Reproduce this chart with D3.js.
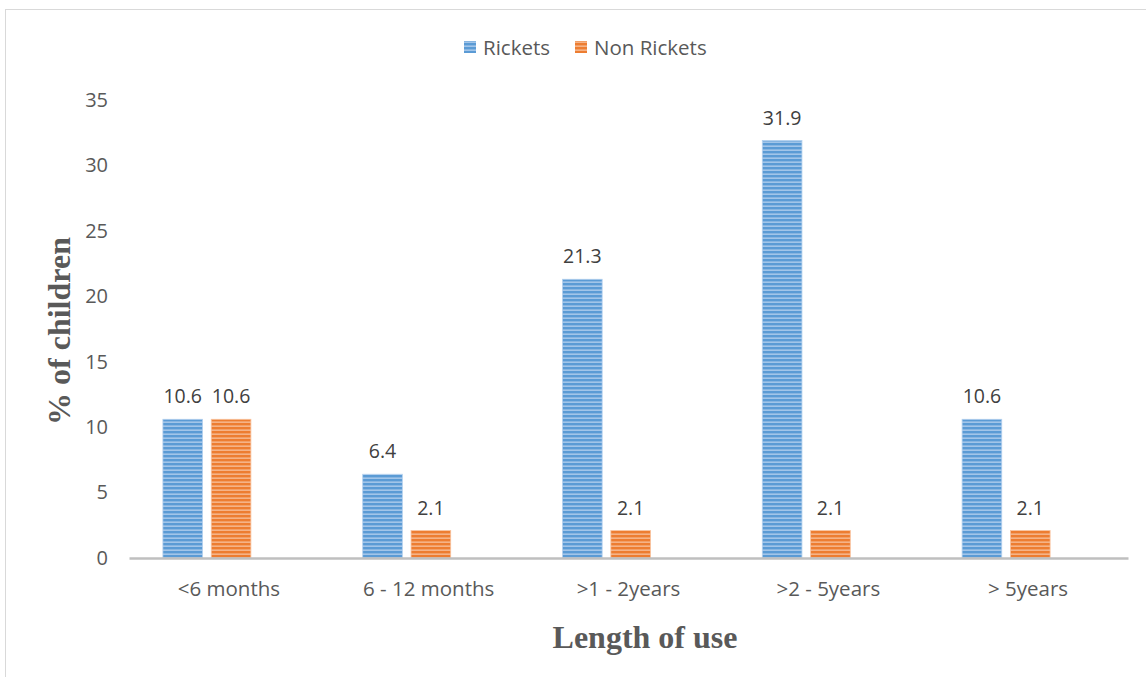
<!DOCTYPE html>
<html>
<head>
<meta charset="utf-8">
<script src="https://cdn.jsdelivr.net/npm/d3@7"></script>
<style>
  html, body { margin: 0; padding: 0; background: #fff; }
  svg { display: block; }
</style>
</head>
<body>
<svg id="chart" width="1146" height="677"></svg>
<script>
// Chart data
const categories = ["<6 months", "6 - 12 months", ">1 - 2years", ">2 - 5years", "> 5years"];
const seriesNames = ["Rickets", "Non Rickets"];
const rickets = [10.6, 6.4, 21.3, 31.9, 10.6];
const nonRickets = [10.6, 2.1, 2.1, 2.1, 2.1];
const yTicks = [0, 5, 10, 15, 20, 25, 30, 35];

const colors = { "Rickets": "#5b9bd5", "Non Rickets": "#ed7d31" };
const lightColors = { "Rickets": "#b3d0ee", "Non Rickets": "#f8c19c" };

const svg = d3.select("#chart");
const W = 1146, H = 677;
const margin = { left: 129, right: 18, top: 100, bottom: 119 };

// Outer frame
svg.append("rect")
  .attr("x", 5.5).attr("y", 9.5)
  .attr("width", W + 20).attr("height", H + 20)
  .attr("fill", "none").attr("stroke", "#d9d9d9").attr("stroke-width", 1);

// Striped fill patterns
const defs = svg.append("defs");
seriesNames.forEach((s, i) => {
  const p = defs.append("pattern")
    .attr("id", "stripe" + i)
    .attr("patternUnits", "userSpaceOnUse")
    .attr("width", 8).attr("height", 4);
  p.append("rect").attr("width", 8).attr("height", 4).attr("fill", colors[s]);
  p.append("rect").attr("y", 1.5).attr("width", 8).attr("height", 1.3)
    .attr("fill", lightColors[s]);
});

const x0 = d3.scaleBand()
  .domain(categories)
  .range([margin.left, W - margin.right]);

const x1 = d3.scaleBand()
  .domain(seriesNames)
  .range([0, 88])
  .paddingInner(0.18);

const y = d3.scaleLinear()
  .domain([0, 35])
  .range([H - margin.bottom, margin.top]);

const font = "'Open Sans', 'Liberation Sans', sans-serif";
const serif = "'Liberation Serif', 'Times New Roman', serif";

// Y axis labels
const yAxis = d3.axisLeft(y).tickValues(yTicks).tickSize(0).tickPadding(0);
const yg = svg.append("g").attr("transform", `translate(108,0)`).call(yAxis);
yg.select(".domain").remove();
yg.selectAll("text")
  .attr("fill", "#595959")
  .style("font-family", font)
  .style("font-size", "20px");

// Bars (each pair sits left of its category centre)
const groupShift = -22;
const seriesData = [rickets, nonRickets];
const groups = svg.append("g");
categories.forEach((c, ci) => {
  const gx = x0(c) + x0.bandwidth() / 2 - 44 + groupShift;
  seriesNames.forEach((s, si) => {
    const v = seriesData[si][ci];
    groups.append("rect")
      .attr("x", gx + x1(s))
      .attr("y", y(v))
      .attr("width", x1.bandwidth())
      .attr("height", y(0) - y(v))
      .attr("fill", `url(#stripe${si})`)
      .attr("stroke", lightColors[s])
      .attr("stroke-width", 0.8);
    groups.append("text")
      .attr("x", gx + x1(s) + x1.bandwidth() / 2)
      .attr("y", y(v) - 16)
      .attr("text-anchor", "middle")
      .attr("fill", "#404040")
      .style("font-family", font)
      .style("font-size", "19.5px")
      .text(v.toFixed(1));
  });
});

// X axis
const xAxis = d3.axisBottom(x0).tickSize(0).tickPadding(0);
const xg = svg.append("g").attr("transform", `translate(0,${y(0)})`).call(xAxis);
xg.select(".domain").attr("stroke", "#bfbfbf").attr("stroke-width", 2.5);
xg.selectAll("text")
  .attr("dy", null)
  .attr("y", 38)
  .attr("fill", "#595959")
  .style("font-family", font)
  .style("font-size", "20.5px");

// Axis titles
svg.append("text")
  .attr("x", 645).attr("y", 648)
  .attr("text-anchor", "middle")
  .attr("fill", "#595959")
  .style("font-family", serif)
  .style("font-weight", "bold")
  .style("font-size", "32px")
  .text("Length of use");

svg.append("text")
  .attr("transform", "translate(70,331) rotate(-90)")
  .attr("text-anchor", "middle")
  .attr("fill", "#595959")
  .style("font-family", serif)
  .style("font-weight", "bold")
  .style("font-size", "32px")
  .text("% of children");

// Legend
const legendItems = [{ name: "Rickets", x: 464 }, { name: "Non Rickets", x: 575 }];
legendItems.forEach((d, i) => {
  svg.append("rect")
    .attr("x", d.x).attr("y", 41)
    .attr("width", 12).attr("height", 12)
    .attr("fill", `url(#stripe${i})`);
  svg.append("text")
    .attr("x", d.x + 19).attr("y", 55)
    .attr("fill", "#595959")
    .style("font-family", font)
    .style("font-size", "20.5px")
    .text(d.name);
});
</script>
</body>
</html>
